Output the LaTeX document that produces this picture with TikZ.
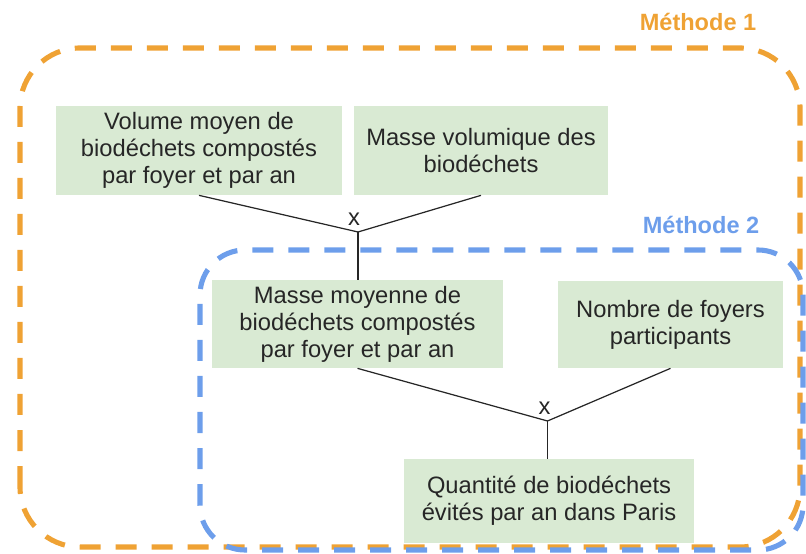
\documentclass[tikz,border=0pt]{standalone}
\usepackage{fontspec}
\setmainfont{Liberation Sans}
\usetikzlibrary{positioning}
\definecolor{methorange}{RGB}{239,162,52}
\definecolor{methblue}{RGB}{109,158,235}
\definecolor{factgreen}{RGB}{217,234,211}
\definecolor{facttext}{RGB}{38,38,38}
\tikzset{
  fact/.style={fill=factgreen, align=center, inner sep=0pt, text=facttext, font=\fontsize{13.5}{15.4}\selectfont},
  frameone/.style={draw=methorange, line width=2.9pt, dash pattern=on 0.42cm off 0.3cm, rounded corners=1.2cm},
  frametwo/.style={draw=methblue, line width=2.9pt, dash pattern=on 0.42cm off 0.3cm, rounded corners=0.9cm},
  link/.style={draw=black!85, line width=0.7pt},
  mult/.style={inner sep=0pt, anchor=south, text=facttext, font=\fontsize{13.5}{15.4}\selectfont},
  methlabel/.style={inner sep=0pt, font=\bfseries\fontsize{13.4}{15.4}\selectfont}
}

\begin{document}
\begin{tikzpicture}
\useasboundingbox (0,0) rectangle (16.12,11.06);
% dashed frames
\draw[frameone] (0.4,0.12) rectangle (16.0,10.1);
\draw[frametwo] (4.0,0.06) rectangle (16.06,6.06);
\node[methlabel, text=methorange] (meth1) at (13.96,10.62) {Méthode 1};
\node[methlabel, text=methblue] (meth2) at (14.02,6.56) {Méthode 2};
% boxes
\node[fact, minimum width=5.72cm, minimum height=1.78cm] (volume) at (3.98,8.05) {Volume moyen de\\biodéchets compostés\\par foyer et par an};
\node[fact, minimum width=5.08cm, minimum height=1.78cm] (massevol) at (9.62,8.05) {Masse volumique des\\biodéchets};
\node[fact, minimum width=5.82cm, minimum height=1.76cm] (massemoy) at (7.15,4.58) {Masse moyenne de\\biodéchets compostés\\par foyer et par an};
\node[fact, minimum width=4.5cm, minimum height=1.74cm] (foyers) at (13.41,4.57) {Nombre de foyers\\participants};
\node[fact, minimum width=5.8cm, minimum height=1.68cm] (quantite) at (10.98,1.04) {Quantité de biodéchets\\évités par an dans Paris};
% products
\coordinate (prod1) at (7.16,6.42);
\coordinate (prod2) at (10.95,2.64);
\node[mult] (times1) at (7.08,6.54) {x};
\node[mult] (times2) at (10.89,2.76) {x};
% connectors
\draw[link] (volume.south) -- (prod1) -- (massevol.south);
\draw[link] (prod1) -- (prod1 |- massemoy.north);
\draw[link] (massemoy.south) -- (prod2) -- (foyers.south);
\draw[link] (prod2) -- (prod2 |- quantite.north);
\end{tikzpicture}
\end{document}
